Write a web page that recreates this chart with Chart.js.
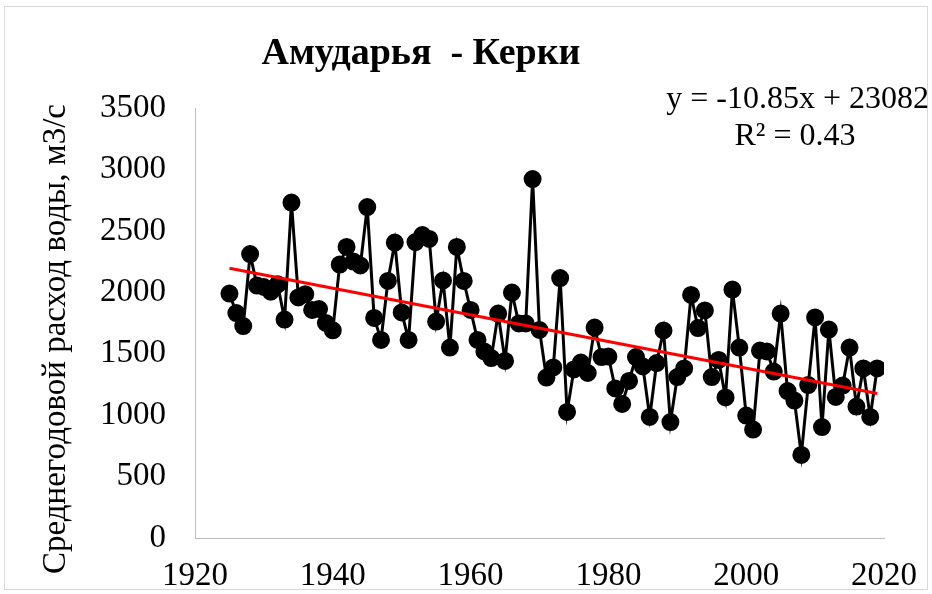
<!DOCTYPE html>
<html>
<head>
<meta charset="utf-8">
<title>Амударья - Керки</title>
<script src="https://cdn.jsdelivr.net/npm/chart.js@4.4.1/dist/chart.umd.min.js"></script>
<style>
    html, body { margin: 0; padding: 0; background: #fff; }
    #wrap { width: 932px; height: 594px; position: relative; }
</style>
</head>
<body>
<div id="wrap"><canvas id="flowChart" width="932" height="594"></canvas></div>
<script>
// годы наблюдений
var years = [
    1925, 1926, 1927, 1928, 1929, 1930, 1931, 1932, 1933, 1934,
    1935, 1936, 1937, 1938, 1939, 1940, 1941, 1942, 1943, 1944,
    1945, 1946, 1947, 1948, 1949, 1950, 1951, 1952, 1953, 1954,
    1955, 1956, 1957, 1958, 1959, 1960, 1961, 1962, 1963, 1964,
    1965, 1966, 1967, 1968, 1969, 1970, 1971, 1972, 1973, 1974,
    1975, 1976, 1977, 1978, 1979, 1980, 1981, 1982, 1983, 1984,
    1985, 1986, 1987, 1988, 1989, 1990, 1991, 1992, 1993, 1994,
    1995, 1996, 1997, 1998, 1999, 2000, 2001, 2002, 2003, 2004,
    2005, 2006, 2007, 2008, 2009, 2010, 2011, 2012, 2013, 2014,
    2015, 2016, 2017, 2018, 2019
];
// среднегодовой расход воды, м3/с
var discharge = [
    1990, 1831, 1725, 2311, 2055, 2043, 2005, 2065, 1778, 2730,
    1958, 1985, 1856, 1864, 1750, 1690, 2226, 2369, 2250, 2218,
    2694, 1791, 1612, 2092, 2405, 1836, 1612, 2409, 2466, 2434,
    1762, 2096, 1550, 2369, 2092, 1856, 1612, 1518, 1465, 1827,
    1441, 1998, 1746, 1746, 2922, 1693, 1306, 1388, 2116, 1026,
    1372, 1428, 1343, 1713, 1473, 1477, 1217, 1091, 1278, 1473,
    1396, 985, 1424, 1689, 944, 1310, 1380, 1978, 1709, 1852,
    1310, 1449, 1144, 2022, 1550, 997, 883, 1526, 1518, 1355,
    1827, 1196, 1119, 676, 1245, 1795, 903, 1697, 1148, 1241,
    1550, 1070, 1380, 985, 1380
];
// линейный тренд (концы линии)
var trendYears = [1925, 2019];
var trendValues = [2196, 1176];

var xTicks = [1920, 1940, 1960, 1980, 2000, 2020];
var yTicks = [0, 500, 1000, 1500, 2000, 2500, 3000, 3500];

var serif = "'Liberation Serif', 'Times New Roman', serif";

function toPoints(xs, ys) {
    var pts = [];
    for (var i = 0; i < xs.length; i++) {
        pts.push({ x: xs[i], y: ys[i] });
    }
    return pts;
}

var textPlugin = {
    id: 'textPlugin',
    afterDraw: function (chart) {
        var ctx = chart.ctx;
        ctx.save();
        // рамка
        ctx.strokeStyle = '#d9d9d9';
        ctx.lineWidth = 1;
        ctx.strokeRect(4.5, 6.5, 923, 583);
        ctx.fillStyle = '#000';
        ctx.textBaseline = 'middle';
        ctx.font = 'bold 38px ' + serif;
        ctx.textAlign = 'center';
        ctx.fillText('Амударья  - Керки', 421, 54);
        ctx.font = '32px ' + serif;
        ctx.textAlign = 'right';
        ctx.fillText('y = -10.85x + 23082', 929, 100);
        ctx.textAlign = 'center';
        ctx.fillText('R\u00B2 = 0.43', 795, 137);
        // подпись оси Y
        ctx.translate(56, 339);
        ctx.rotate(-Math.PI / 2);
        ctx.font = '33px ' + serif;
        ctx.fillText('Среднегодовой расход воды, м3/с', 0, 0);
        ctx.restore();
    }
};

var flowChart = new Chart(document.getElementById('flowChart'), {
    type: 'scatter',
    data: {
        datasets: [{
            label: 'Расход',
            data: toPoints(years, discharge),
            showLine: true,
            borderColor: '#000',
            backgroundColor: '#000',
            borderWidth: 3,
            pointRadius: 7.5,
            pointHoverRadius: 7.5,
            order: 2
        }, {
            label: 'Тренд',
            data: toPoints(trendYears, trendValues),
            showLine: true,
            borderColor: '#ff0000',
            borderWidth: 3,
            pointRadius: 0,
            order: 1
        }]
    },
    options: {
        responsive: false,
        animation: false,
        layout: { padding: { top: 108, right: 48, left: 0, bottom: 0 } },
        plugins: {
            legend: { display: false },
            tooltip: { enabled: false }
        },
        scales: {
            x: {
                type: 'linear',
                min: 1920,
                max: 2020,
                afterBuildTicks: function (scale) {
                    scale.ticks = xTicks.map(function (v) { return { value: v }; });
                },
                afterFit: function (scale) {
                    scale.height = 56;
                    scale.paddingLeft = 0;
                    scale.paddingRight = 0;
                },
                grid: { display: false, drawTicks: false },
                border: { color: '#bfbfbf', width: 1 },
                ticks: {
                    padding: 19,
                    color: '#000',
                    font: { family: serif, size: 33 },
                    callback: function (v) { return String(v); }
                }
            },
            y: {
                min: 0,
                max: 3500,
                afterBuildTicks: function (scale) {
                    scale.ticks = yTicks.map(function (v) { return { value: v }; });
                },
                afterFit: function (scale) { scale.width = 195; },
                grid: { display: false, drawTicks: false },
                border: { color: '#bfbfbf', width: 1 },
                ticks: {
                    padding: 29,
                    color: '#000',
                    font: { family: serif, size: 33 },
                    callback: function (v) { return String(v); }
                }
            }
        }
    },
    plugins: [textPlugin]
});
</script>
</body>
</html>
